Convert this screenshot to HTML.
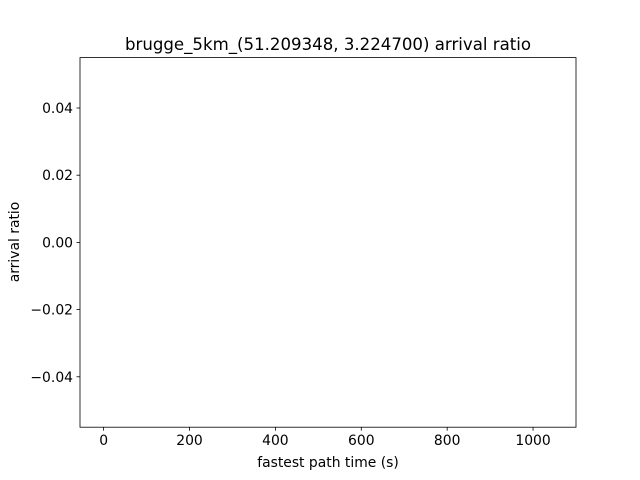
<!DOCTYPE html>
<html><head><meta charset="utf-8"><style>
html,body{margin:0;padding:0;background:#fff;}
svg{display:block;font-family:"DejaVu Sans","Liberation Sans",sans-serif;}
</style></head><body>
<svg id="chart" width="640" height="480">
<rect x="0" y="0" width="640" height="480" fill="#fff"/>
<text x="328" y="50" font-size="16.6" text-anchor="middle">brugge_5km_(51.209348, 3.224700) arrival ratio</text>
<text x="328" y="467" font-size="13.9" text-anchor="middle">fastest path time (s)</text>
<text x="19" y="242" font-size="13.9" text-anchor="middle" transform="rotate(-90 19 242)">arrival ratio</text>
<g id="ticks"></g>
<g id="marks"></g>
<rect x="80" y="57.6" width="496" height="369.6" fill="none" stroke="#000" stroke-width="0.8"/>
</svg>
<script>
const xTicks = [0, 200, 400, 600, 800, 1000];
const yTicks = [-0.04, -0.02, 0.00, 0.02, 0.04];
const yTickLabels = ["\u22120.04", "\u22120.02", "0.00", "0.02", "0.04"];
const xValues = [];
const yValues = [];
const xMin = -55, xMax = 1100, yMin = -0.055, yMax = 0.055;
const L = 80, R = 576, T = 57.6, B = 427.2;
function sx(v){ return L + (v - xMin) / (xMax - xMin) * (R - L); }
function sy(v){ return B - (v - yMin) / (yMax - yMin) * (B - T); }
const NS = "http://www.w3.org/2000/svg";
const tg = document.getElementById('ticks');
xTicks.forEach(function(t){
  const x = sx(t);
  const l = document.createElementNS(NS,'line');
  l.setAttribute('x1',x); l.setAttribute('x2',x); l.setAttribute('y1',B); l.setAttribute('y2',B+3.5);
  l.setAttribute('stroke','#000'); l.setAttribute('stroke-width','0.8');
  
  
  tg.appendChild(l);
  const tx = document.createElementNS(NS,'text');
  tx.setAttribute('x',x); tx.setAttribute('y',B+18); tx.setAttribute('font-size','13.9'); tx.setAttribute('text-anchor','middle');
  tx.textContent = String(t);
  
  
  tg.appendChild(tx);
});
yTicks.forEach(function(t,i){
  const y = sy(t);
  const l = document.createElementNS(NS,'line');
  l.setAttribute('x1',L-3.5); l.setAttribute('x2',L); l.setAttribute('y1',y); l.setAttribute('y2',y);
  l.setAttribute('stroke','#000'); l.setAttribute('stroke-width','0.8');
  
  
  tg.appendChild(l);
  const tx = document.createElementNS(NS,'text');
  tx.setAttribute('x',L-7); tx.setAttribute('y',y+5); tx.setAttribute('font-size','13.9'); tx.setAttribute('text-anchor','end');
  tx.textContent = yTickLabels[i];
  
  
  tg.appendChild(tx);
});
const mg = document.getElementById('marks');
xValues.forEach(function(v,i){
  const c = document.createElementNS(NS,'circle');
  c.setAttribute('cx',sx(v)); c.setAttribute('cy',sy(yValues[i])); c.setAttribute('r',3); c.setAttribute('fill','#1f77b4');
  
  
  mg.appendChild(c);
});
</script>
</body></html>
